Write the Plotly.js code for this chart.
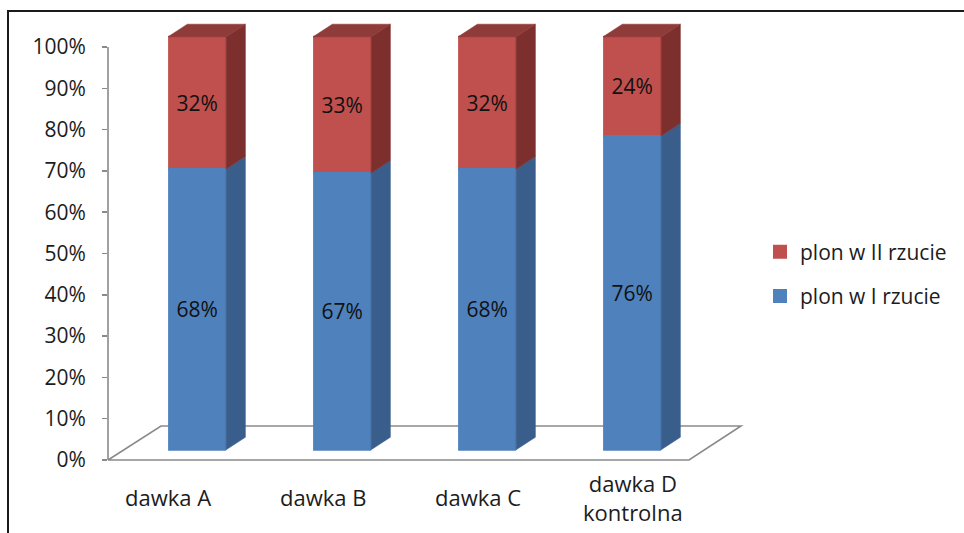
<!DOCTYPE html>
<html>
<head>
<meta charset="utf-8">
<script src="https://cdn.plot.ly/plotly-3.0.1.min.js"></script>
<style>
  html, body { margin: 0; padding: 0; background: #fff; }
  #wrap { position: relative; width: 964px; height: 533px; overflow: hidden; }
  #frame {
    position: absolute; left: 7px; top: 10px; right: -10px; bottom: -10px;
    border-top: 2px solid #1a1a1a; border-left: 2px solid #1a1a1a;
    pointer-events: none;
  }
</style>
</head>
<body>
<div id="wrap"><div id="chart"></div><div id="frame"></div></div>
<script>
// ---- data ----
const categories = ['dawka A', 'dawka B', 'dawka C', 'dawka D<br>kontrolna'];
const nameI = 'plon w I rzucie';
const nameII = 'plon w II rzucie';
const plonI = [68, 67, 68, 76];
const plonII = [32, 33, 32, 24];
const tickValues = [0, 10, 20, 30, 40, 50, 60, 70, 80, 90, 100];
const tickLabels = tickValues.map(v => v + '%');

// ---- geometry of the pseudo-3D frame (pixels) ----
const W = 964, H = 533;
const plot = { l: 108, r: 760, t: 15, b: 470 };
const zeroPx = 460, hundredPx = 47;
const pxPerPct = (zeroPx - hundredPx) / 100;
const pxPerCat = 145;
const floorLeftPx = 109;
const xMin = -0.5 - (floorLeftPx - plot.l) / pxPerCat;
const xRange = [xMin, xMin + (plot.r - plot.l) / pxPerCat];
const yRange = [-(plot.b - zeroPx) / pxPerPct, (zeroPx - plot.t) / pxPerPct];

// floor depth vector and bar placement inside it
const floorDx = 52 / pxPerCat, floorDy = 34 / pxPerPct;
const frontT = 0.30, backT = 0.67;
const barEdge = 2;                       // outline width of the front faces
const barW = (58 - barEdge) / pxPerCat;  // fill width, outline brings it to 58px
const edgeX = (barEdge / 2) / pxPerCat;
const fx = frontT * floorDx, fy = frontT * floorDy;
const bx = (backT - frontT) * floorDx, by = (backT - frontT) * floorDy;

// label row under the floor
const labelPx0 = 168, labelStep = 155, labelYpx = 497;
const pxToX = px => xMin + (px - plot.l) / pxPerCat;
const pxToPaperY = py => (plot.b - py) / (plot.b - plot.t);

const colors = {
  redFront: '#C0504D', redSide: '#7D2F2D', redTop: '#8E3B39',
  blueFront: '#4F81BD', blueSide: '#3A5E8C',
  axis: '#8A8A8A', text: '#1c1c1c'
};
const FONT = 'Open Sans, Lato, sans-serif';

// ---- side and top faces of each stacked column ----
function sideFaces(lows, highs) {
  const xs = [], ys = [];
  lows.forEach((lo, i) => {
    const hi = highs[i];
    const xr = i + fx + barW / 2 + edgeX;
    xs.push(xr, xr + bx, xr + bx, xr, xr, null);
    ys.push(lo + fy, lo + fy + by, hi + fy + by, hi + fy, lo + fy, null);
  });
  return { xs, ys };
}
function topFaces(tops) {
  const xs = [], ys = [];
  tops.forEach((tp, i) => {
    const xl = i + fx - barW / 2 - edgeX, xr = i + fx + barW / 2 + edgeX;
    xs.push(xl, xr, xr + bx, xl + bx, xl, null);
    ys.push(tp + fy, tp + fy, tp + fy + by, tp + fy + by, tp + fy, null);
  });
  return { xs, ys };
}

const idx = categories.map((_, i) => i);
const zeros = idx.map(() => 0);
const totals = plonI.map((v, i) => v + plonII[i]);

const blueSide = sideFaces(zeros, plonI);
const redSide = sideFaces(plonI, totals);
const redTop = topFaces(totals);

function faceTrace(f, color) {
  return {
    type: 'scatter', mode: 'lines', x: f.xs, y: f.ys,
    fill: 'toself', fillcolor: color,
    line: { color: color, width: 0.6 },
    hoverinfo: 'skip', showlegend: false
  };
}

const barText = { family: FONT, size: 21, color: '#111' };

const traces = [
  {
    type: 'bar', name: nameII, legendgroup: 'II',
    x: idx.map(i => i + fx), y: plonII,
    base: plonI.map(v => v + fy), width: barW,
    marker: { color: colors.redFront, line: { color: colors.redFront, width: barEdge } },
    text: plonII.map(v => v + '%'), textposition: 'inside',
    insidetextanchor: 'middle', textangle: 0, constraintext: 'none',
    textfont: barText, hoverinfo: 'skip'
  },
  {
    type: 'bar', name: nameI, legendgroup: 'I',
    x: idx.map(i => i + fx), y: plonI,
    base: idx.map(() => fy), width: barW,
    marker: { color: colors.blueFront, line: { color: colors.blueFront, width: barEdge } },
    text: plonI.map(v => v + '%'), textposition: 'inside',
    insidetextanchor: 'middle', textangle: 0, constraintext: 'none',
    textfont: barText, hoverinfo: 'skip'
  },
  faceTrace(blueSide, colors.blueSide),
  faceTrace(redSide, colors.redSide),
  faceTrace(redTop, colors.redTop)
];

// floor parallelogram
const fl = [-0.5, 0], fr = [categories.length - 0.5, 0];
const floorPath =
  `M${xMin},${fl[1]} L${fr[0]},${fr[1]} ` +
  `L${fr[0] + floorDx},${floorDy} L${fl[0] + floorDx},${floorDy} Z`;

const layout = {
  width: W, height: H,
  margin: { l: plot.l, r: W - plot.r, t: plot.t, b: H - plot.b, pad: 0 },
  paper_bgcolor: '#fff', plot_bgcolor: 'rgba(0,0,0,0)',
  barmode: 'overlay',
  font: { family: FONT, size: 21, color: colors.text },
  xaxis: {
    range: xRange, showgrid: false, zeroline: false, showline: false,
    showticklabels: false, ticks: '', fixedrange: true
  },
  yaxis: {
    range: yRange, showgrid: false, zeroline: false, showline: false,
    tickmode: 'array', tickvals: tickValues, ticktext: tickLabels,
    ticks: 'outside', ticklen: 5, tickwidth: 1.5, tickcolor: colors.axis,
    ticklabelstandoff: 12,
    tickfont: { family: FONT, size: 21, color: colors.text }, fixedrange: true
  },
  shapes: [
    { type: 'path', xref: 'x', yref: 'y', path: floorPath, layer: 'below',
      fillcolor: '#fff', line: { color: colors.axis, width: 1.6 } },
    { type: 'line', xref: 'paper', yref: 'y', x0: 0, x1: 0, y0: 0, y1: 100,
      layer: 'below', line: { color: colors.axis, width: 1.6 } }
  ],
  annotations: categories.map((c, i) => ({
    xref: 'x', yref: 'paper',
    x: pxToX(labelPx0 + labelStep * i), y: pxToPaperY(labelYpx),
    xanchor: 'center', yanchor: 'middle', align: 'center',
    text: c, showarrow: false,
    font: { family: FONT, size: 22, color: colors.text }
  })),
  showlegend: true,
  legend: {
    x: (760 - plot.l) / (plot.r - plot.l), xanchor: 'left',
    y: pxToPaperY(274), yanchor: 'middle',
    traceorder: 'grouped', tracegroupgap: 14,
    font: { family: FONT, size: 21, color: colors.text },
    bgcolor: 'rgba(0,0,0,0)'
  }
};

Plotly.newPlot('chart', traces, layout, { displayModeBar: false, staticPlot: true });
</script>
</body>
</html>
